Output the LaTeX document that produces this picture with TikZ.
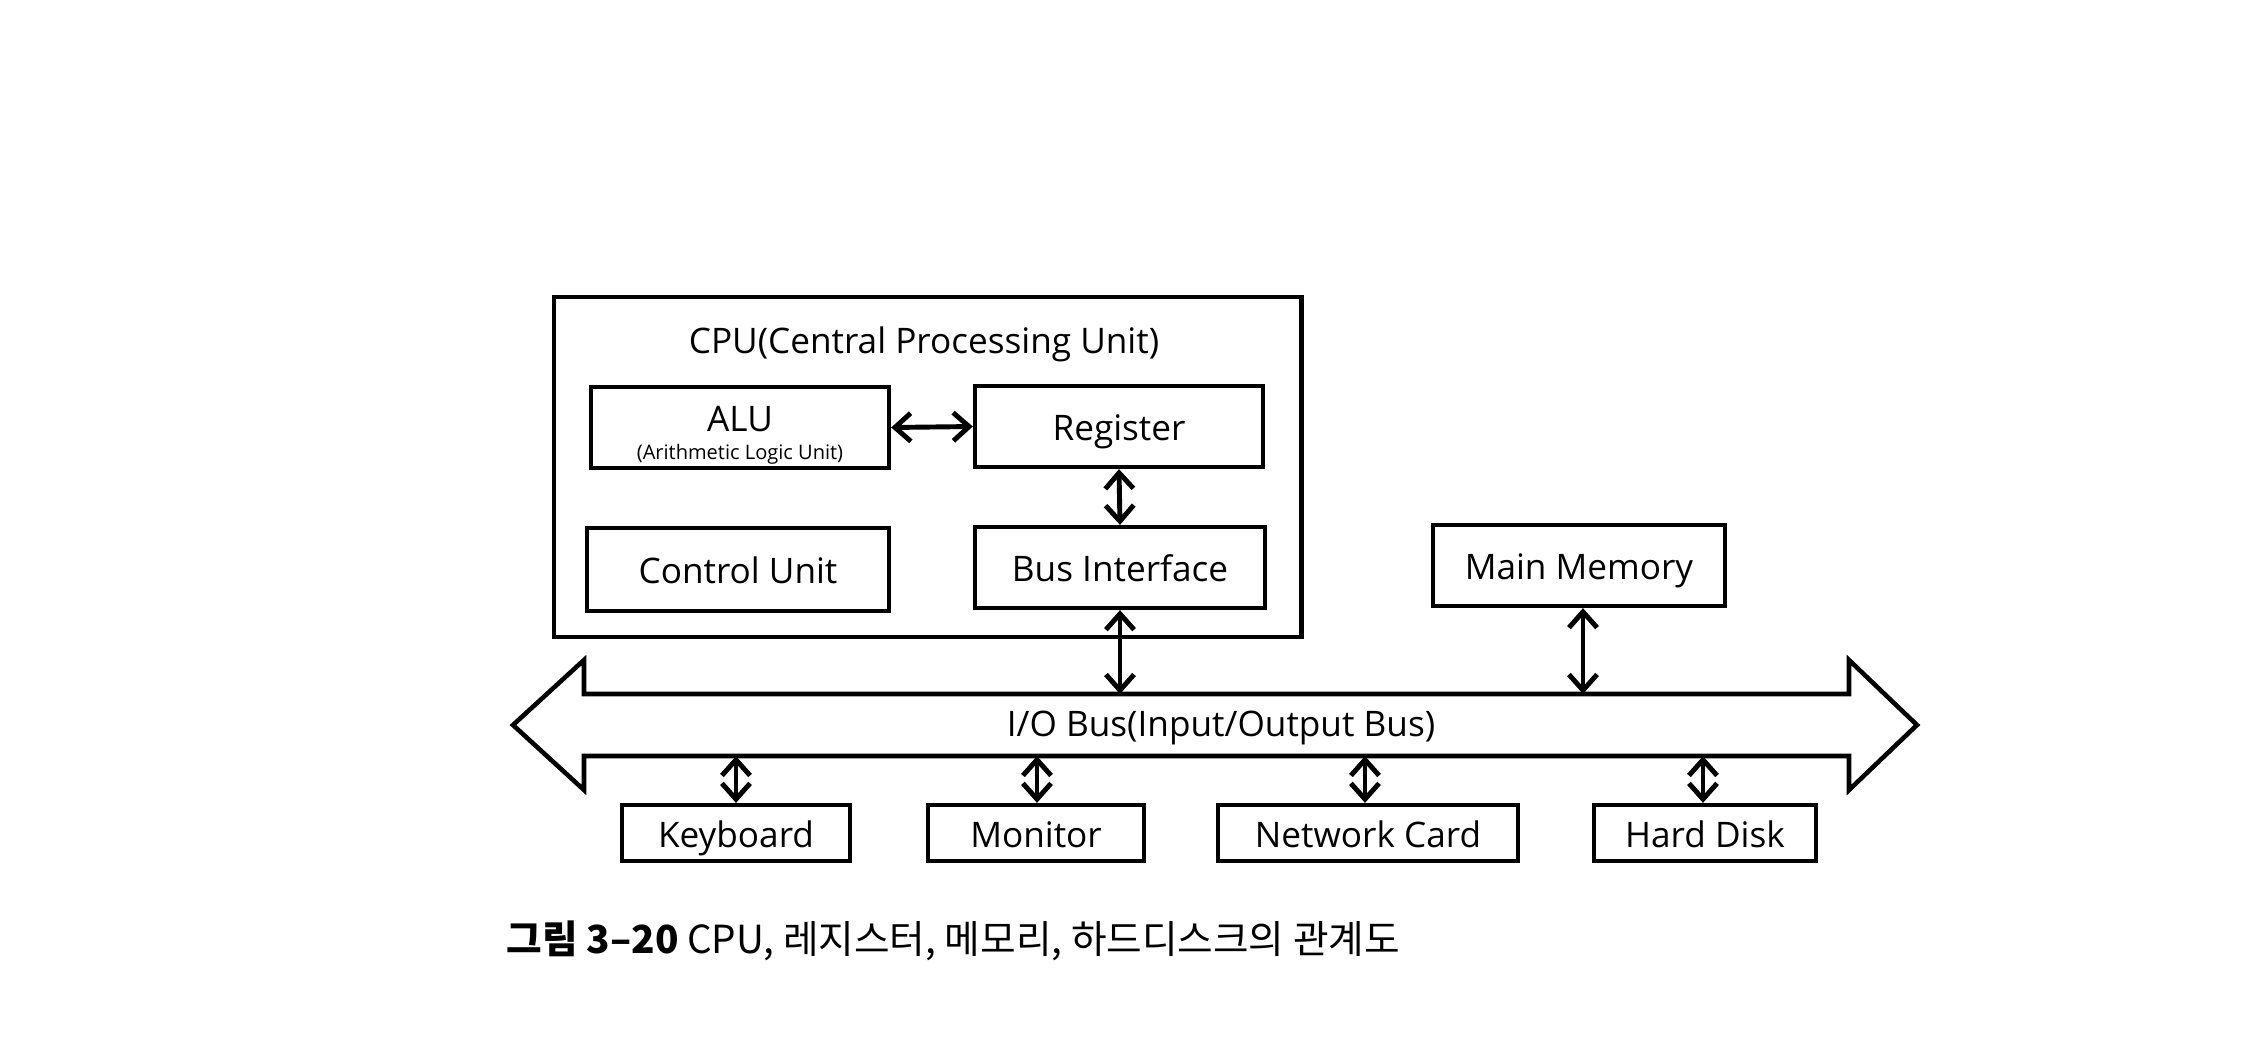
\documentclass[tikz,border=0pt]{standalone}
\usepackage{fontspec}
\setmainfont{Open Sans}
\newfontfamily\krfont{Noto Sans CJK KR}
\usetikzlibrary{arrows.meta}
\tikzset{
  box/.style={draw, line width=1.2pt, inner sep=0pt, text height=8.5pt, text depth=0.5pt, font=\fontsize{10}{12}\selectfont},
  outerbox/.style={draw, line width=1.3pt, inner sep=0pt},
  link/.style={line width=1.4pt, {Straight Barb[length=4.5pt,width=8pt,line width=1.4pt]}-{Straight Barb[length=4.5pt,width=8pt,line width=1.4pt]}},
  busshape/.style={draw, line width=1.3pt, line join=miter, fill=white},
  lbl/.style={inner sep=0pt, font=\fontsize{10}{12}\selectfont},
}
\begin{document}
\begin{tikzpicture}[x=0.01cm,y=-0.01cm]
\useasboundingbox (0,0) rectangle (2268,1060);
% CPU outer box
\node[outerbox, minimum width=7.47cm, minimum height=3.40cm] (cpu) at (927.5,467) {};
\node[lbl] (cputitle) at (924,344) {CPU(Central Processing Unit)};
% inner boxes
\node[box, text height=, text depth=, minimum width=2.98cm, minimum height=0.81cm, align=center] (alu) at (740,427.5)
  {\fontsize{10}{10}\selectfont\rule{0pt}{11.5pt}ALU\\[-4pt]{\fontsize{5.7}{6}\selectfont (Arithmetic Logic Unit)}};
\node[box, minimum width=2.88cm, minimum height=0.81cm] (reg) at (1119,426.5) {Register};
\node[box, minimum width=3.02cm, minimum height=0.83cm] (cu) at (738,569.5) {Control Unit};
\node[box, minimum width=2.90cm, minimum height=0.81cm] (bi) at (1120,567.5) {Bus Interface};
\node[box, minimum width=2.92cm, minimum height=0.81cm] (mm) at (1579,565.5) {Main Memory};
% bus
\draw[busshape] (584,694) -- (1849,694) -- (1849,660) -- (1917,725) -- (1849,790) -- (1849,756)
  -- (584,756) -- (584,790) -- (513,725) -- (584,660) -- cycle;
\node[lbl] (bus) at (1221,728) {I/O Bus(Input/Output Bus)};
\coordinate (busBI) at (1120,694);
\coordinate (busMM) at (1583,694);
\coordinate (busKB) at (736,756);
\coordinate (busMO) at (1037,756);
\coordinate (busNC) at (1365,756);
\coordinate (busHD) at (1703,756);
% peripherals
\node[box, minimum width=2.28cm, minimum height=0.56cm] (kb) at (736,833) {Keyboard};
\node[box, minimum width=2.16cm, minimum height=0.56cm] (mo) at (1036,833) {Monitor};
\node[box, minimum width=3.00cm, minimum height=0.56cm] (nc) at (1368,833) {Network Card};
\node[box, minimum width=2.22cm, minimum height=0.56cm] (hd) at (1705,833) {Hard Disk};
% connectors
\draw[link] (alu.east) -- (reg.west);
\draw[link] (reg.south) -- (bi.north);
\draw[link] (bi.south) -- (busBI);
\draw[link] (mm.south -| busMM) -- (busMM);
\draw[link] (busKB) -- (kb.north -| busKB);
\draw[link] (busMO) -- (mo.north -| busMO);
\draw[link] (busNC) -- (nc.north -| busNC);
\draw[link] (busHD) -- (hd.north -| busHD);
% caption
\node[anchor=west, inner sep=0pt, font=\krfont\fontsize{11}{13}\selectfont] (cap) at (506,941)
  {\textbf{그림 3–20} CPU, 레지스터, 메모리, 하드디스크의 관계도};
\end{tikzpicture}
\end{document}
